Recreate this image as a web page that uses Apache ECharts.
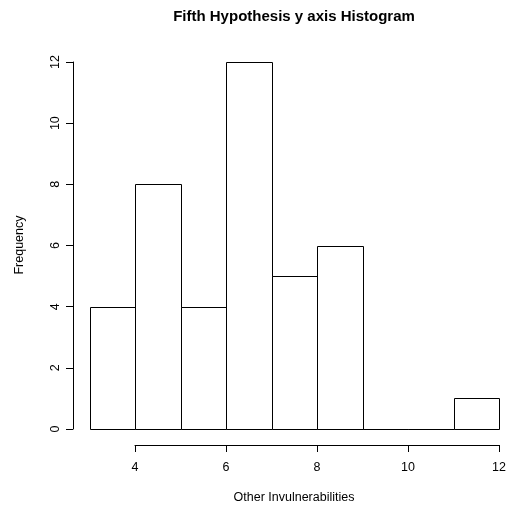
<!DOCTYPE html>
<html>
<head>
<meta charset="utf-8">
<script src="https://cdn.jsdelivr.net/npm/echarts@6/dist/echarts.min.js"></script>
<style>
  html, body { margin: 0; padding: 0; background: #fff; }
  #chart { width: 511px; height: 508px; }
</style>
</head>
<body>
<div id="chart"></div>
<script>
// Histogram bins: left edge, right edge, count
const binStarts = [3, 4, 5, 6, 7, 8, 9, 10, 11];
const binEnds   = [4, 5, 6, 7, 8, 9, 10, 11, 12];
const counts    = [4, 8, 4, 12, 5, 6, 0, 0, 1];
const xTicks = [4, 6, 8, 10, 12];
const yTicks = [0, 2, 4, 6, 8, 10, 12];

const FONT = 'Liberation Sans, Arial, Helvetica, sans-serif';
const LABEL_SIZE = 12.5;

const chart = echarts.init(document.getElementById('chart'), null, { renderer: 'canvas' });

const binData = binStarts.map((s, i) => [s, binEnds[i], counts[i]]);

chart.setOption({
  animation: false,
  backgroundColor: '#ffffff',
  grid: [
    // plotting area for the bars (x from 3 to 12, y from 0 to 12)
    { left: 89.5, width: 409.5, top: 62, height: 367 },
    // separate strip holding the bottom axis, spanning 4..12
    { left: 135, width: 364, top: 444, height: 1 }
  ],
  xAxis: [
    {
      gridIndex: 0, type: 'value', min: 3, max: 12,
      show: false
    },
    {
      gridIndex: 1, type: 'value', min: 4, max: 12, interval: 2,
      position: 'bottom',
      axisLine: { show: true, onZero: false, lineStyle: { color: '#000', width: 1 } },
      axisTick: { show: true, inside: false, length: 7, lineStyle: { color: '#000' } },
      axisLabel: {
        show: true, inside: false, color: '#000', fontFamily: FONT, fontSize: LABEL_SIZE,
        margin: 16,
        formatter: v => (xTicks.includes(v) ? String(v) : '')
      },
      splitLine: { show: false }
    }
  ],
  yAxis: [
    {
      gridIndex: 0, type: 'value', min: 0, max: 12, interval: 2,
      offset: 16.5,
      axisLine: { show: true, lineStyle: { color: '#000', width: 1 } },
      axisTick: { show: true, length: 7, lineStyle: { color: '#000' } },
      axisLabel: {
        color: '#000', fontFamily: FONT, fontSize: LABEL_SIZE, rotate: 90, margin: 11,
        formatter: v => (yTicks.includes(v) ? String(v) : '')
      },
      splitLine: { show: false }
    },
    {
      gridIndex: 1, type: 'value', show: false
    }
  ],
  series: [
    {
      type: 'custom',
      xAxisIndex: 0, yAxisIndex: 0,
      data: binData,
      renderItem: function (params, api) {
        const p0 = api.coord([api.value(0), 0]);
        const p1 = api.coord([api.value(1), api.value(2)]);
        const x0 = Math.round(p0[0]) + 0.5;
        const x1 = Math.round(p1[0]) + 0.5;
        const yb = Math.round(p0[1]) + 0.5;
        const yt = Math.round(p1[1]) + 0.5;
        return {
          type: 'rect',
          shape: { x: x0, y: yt, width: x1 - x0, height: yb - yt },
          style: { fill: '#ffffff', stroke: '#000000', lineWidth: 1 }
        };
      }
    }
  ],
  graphic: [
    {
      type: 'text',
      x: 294, y: 17,
      style: {
        text: 'Fifth Hypothesis y axis Histogram',
        font: 'bold 15px ' + FONT, fill: '#000',
        align: 'center', verticalAlign: 'middle'
      }
    },
    {
      type: 'text',
      x: 294, y: 498,
      style: {
        text: 'Other Invulnerabilities',
        font: LABEL_SIZE + 'px ' + FONT, fill: '#000',
        align: 'center', verticalAlign: 'middle'
      }
    },
    {
      type: 'text',
      x: 20, y: 245, rotation: Math.PI / 2,
      style: {
        text: 'Frequency',
        font: LABEL_SIZE + 'px ' + FONT, fill: '#000',
        align: 'center', verticalAlign: 'middle'
      }
    }
  ]
});
</script>
</body>
</html>
